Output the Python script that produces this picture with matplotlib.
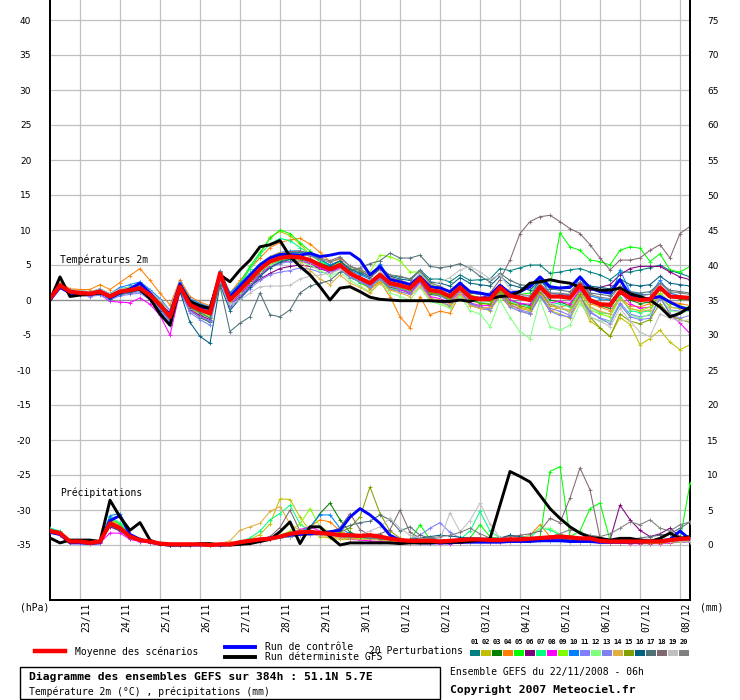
import numpy as np
import matplotlib
matplotlib.use('Agg')
import matplotlib.pyplot as plt
from matplotlib.lines import Line2D
from matplotlib.patches import Rectangle

# time axis: one point every 6h, from 22/11 06h to 08/12 06h (384h)
hours = np.arange(0, 385, 6)
day_hours = np.arange(18, 384, 24)
day_labels = ['23/11', '24/11', '25/11', '26/11', '27/11', '28/11', '29/11', '30/11',
              '01/12', '02/12', '03/12', '04/12', '05/12', '06/12', '07/12', '08/12']

member_names = ['01', '02', '03', '04', '05', '06', '07', '08', '09', '10',
                '11', '12', '13', '14', '15', '16', '17', '18', '19', '20']
member_colors = ['#008080', '#c0c000', '#008000', '#ff8000', '#00ff00', '#800080', '#00ff80',
                 '#ff00ff', '#80ff00', '#0080ff', '#8080ff', '#80ff80', '#8080f0', '#e0b040',
                 '#80a000', '#006080', '#507078', '#806870', '#c0c0c0', '#808080']

# ---- temperature 2m (deg C) ----
temp_mean = [0.2, 2.1, 1.2, 1.0, 0.9, 1.2, 0.5, 1.2,
             1.4, 1.7, 0.7, -0.7, -2.4, 1.9, -0.7, -1.4,
             -1.9, 3.8, 0.0, 1.4, 2.9, 4.4, 5.5, 6.0,
             6.2, 6.1, 5.7, 5.0, 4.4, 5.0, 3.8, 3.1,
             2.4, 3.6, 2.4, 2.1, 1.7, 3.1, 1.4, 1.2,
             0.5, 1.8, 0.4, 0.1, 0.1, 1.8, 0.6, 0.3,
             0.0, 1.9, 0.5, 0.5, 0.3, 2.1, 0.0, -0.6,
             -0.7, 1.2, 0.3, 0.0, 0.1, 1.8, 0.5, 0.4,
             0.3]
temp_control = [0.0, 1.8, 1.0, 0.8, 0.8, 1.3, 0.3, 1.0,
                1.6, 2.4, 1.0, -0.8, -2.0, 2.3, -0.5, -1.0,
                -1.2, 3.5, 0.5, 2.0, 3.5, 5.0, 6.0, 6.5,
                6.5, 6.4, 6.7, 6.2, 6.4, 6.7, 6.7, 5.7,
                3.6, 4.8, 2.9, 2.6, 2.2, 3.3, 1.9, 1.7,
                1.2, 2.4, 1.2, 1.0, 0.7, 2.1, 1.0, 1.2,
                1.9, 3.3, 1.9, 1.7, 1.8, 3.3, 1.7, 1.2,
                1.0, 2.9, 0.7, 0.2, 0.2, 0.5, -0.3, -1.0,
                -1.4]
temp_gfs = [0.0, 3.3, 0.5, 0.7, 0.8, 1.0, 0.6, 1.1,
            1.5, 1.5, 0.2, -2.0, -3.6, 2.0, -0.2, -0.8,
            -1.2, 3.6, 2.6, 4.3, 5.7, 7.6, 7.9, 8.5,
            6.2, 4.8, 3.6, 1.9, 0.0, 1.7, 1.9, 1.2,
            0.4, 0.1, 0.0, -0.1, -0.1, -0.1, -0.1, -0.2,
            -0.2, 0.0, -0.2, 0.2, 0.2, 0.5, 0.6, 1.2,
            2.4, 2.6, 2.9, 2.6, 2.4, 1.8, 1.7, 1.4,
            1.4, 1.7, 0.9, 0.5, 0.0, -1.0, -2.4, -1.9,
            -1.0]

temp_p01 = [0.2, 2.3, 1.5, 1.3, 1.2, 1.5, 0.8, 1.6, 1.8, 2.2, 1.2, 0.0, -1.6, 2.4, 0.0, -0.8,
            -1.2, 4.0, 0.8, 2.0, 3.5, 5.0, 6.0, 6.6, 6.8, 6.8, 6.5, 5.8, 5.0, 5.5, 4.5, 4.0,
            3.4, 4.4, 3.5, 3.3, 3.0, 4.3, 3.0, 3.0, 2.6, 3.6, 2.8, 2.9, 3.0, 4.5, 4.2, 4.6,
            5.0, 5.0, 3.8, 4.0, 4.3, 4.5, 4.0, 3.6, 2.9, 4.0, 4.0, 4.3, 4.6, 5.0, 4.2, 3.8, 3.3]
temp_p02 = [0.1, 1.9, 1.0, 0.8, 0.7, 1.0, 0.3, 1.0, 1.3, 1.8, 0.5, -1.0, -2.8, 1.6, -1.2, -2.0,
            -2.6, 3.4, -0.2, 2.0, 4.5, 6.5, 9.0, 9.8, 9.2, 8.0, 6.5, 5.5, 4.6, 5.0, 3.5, 2.5,
            1.6, 2.8, 1.5, 1.2, 0.8, 2.5, 0.3, -0.3, -1.0, 0.8, -0.8, -1.2, -1.5, 0.5, -1.0, -1.6,
            -2.0, 0.5, -1.5, -2.0, -2.6, 0.0, -3.0, -4.0, -5.2, -2.5, -3.5, -6.4, -5.5, -4.3, -6.0, -7.1, -6.4]
temp_p03 = [0.2, 1.8, 1.0, 0.9, 0.6, 1.0, 0.2, 0.8, 1.0, 1.5, 0.3, -1.2, -3.0, 1.5, -1.5, -2.5,
            -3.2, 3.2, -0.5, 0.8, 2.4, 3.8, 5.0, 5.6, 5.8, 5.7, 5.2, 4.5, 4.0, 4.4, 3.2, 2.6,
            2.0, 3.0, 1.8, 1.5, 1.0, 2.6, 0.8, 0.6, 0.0, 1.6, 0.2, -0.4, -0.6, 1.5, 0.0, -0.5,
            -0.8, 1.2, 0.0, -0.3, -0.8, 1.4, -0.3, -0.8, -1.2, 1.0, 0.0, -0.5, -0.3, 1.5, 0.5, 0.2, 0.0]
temp_p04 = [0.2, 2.5, 1.6, 1.5, 1.5, 2.2, 1.5, 2.5, 3.5, 4.5, 2.8, 1.0, -0.7, 2.9, 0.5, -0.3,
            -0.8, 4.2, 1.0, 2.8, 4.5, 6.0, 7.5, 8.2, 8.6, 8.8, 8.0, 6.8, 5.5, 5.8, 4.2, 3.0,
            1.5, 2.6, 0.5, -2.4, -4.0, 0.5, -2.1, -1.6, -1.9, 0.8, -0.5, -1.0, -1.2, 0.8, -0.8, -1.2,
            -1.5, 0.8, -1.6, -1.0, -0.6, 1.2, -0.5, -1.0, -1.5, 0.3, -0.8, -1.0, -0.5, 1.0, -0.3, -0.5, -0.8]
temp_p05 = [0.3, 2.3, 1.4, 1.2, 1.0, 1.6, 0.8, 1.5, 1.9, 2.0, 1.0, -0.3, -2.0, 2.2, -0.4, -1.0,
            -1.5, 4.0, 0.5, 2.5, 4.8, 6.8, 8.8, 10.0, 9.5, 8.2, 7.0, 5.8, 4.8, 5.2, 3.5, 2.4,
            1.8, 3.0, 1.5, 1.6, 1.2, 2.8, 1.0, 0.8, 0.0, 1.5, 0.2, 0.0, -0.2, 1.5, 0.5, 0.8,
            1.0, 2.6, 1.9, 9.6, 7.6, 7.1, 5.7, 5.5, 5.0, 7.1, 7.6, 7.4, 5.5, 6.6, 4.3, 4.0, 4.8]
temp_p06 = [0.2, 1.9, 1.1, 0.9, 0.9, 1.0, 0.4, 0.9, 1.2, 1.4, 0.4, -1.0, -2.8, 1.4, -1.4, -2.2,
            -2.8, 3.0, -0.8, 0.5, 2.0, 3.0, 3.8, 4.5, 4.8, 5.0, 4.8, 4.5, 4.0, 4.8, 3.6, 3.0,
            2.2, 3.4, 2.0, 1.8, 1.4, 2.8, 1.0, 0.9, 0.5, 1.8, 0.6, 0.4, 0.6, 2.2, 1.0, 0.6,
            0.2, 1.5, 0.4, 0.6, 0.8, 2.5, 1.5, 1.8, 2.2, 3.6, 4.5, 4.8, 4.8, 4.8, 4.0, 3.3, 2.9]
temp_p07 = [0.2, 2.2, 1.3, 1.1, 1.0, 1.4, 0.6, 1.3, 1.5, 1.9, 0.9, -0.5, -2.2, 2.0, -0.8, -1.6,
            -2.2, 3.6, 0.2, 2.2, 4.5, 6.5, 8.0, 8.8, 8.5, 7.5, 6.5, 5.5, 4.8, 5.2, 4.0, 3.2,
            2.3, 3.5, 2.2, 1.8, 1.5, 2.8, 1.2, 0.9, 0.2, 1.6, 0.0, -0.4, -0.5, 1.3, -0.2, -0.6,
            -1.0, 1.3, -0.3, -0.6, -1.0, 1.2, -1.0, -1.8, -2.0, 0.5, -1.5, -1.8, -1.5, 0.8, -1.0, -1.2, -1.0]
temp_p08 = [0.2, 1.9, 1.0, 0.7, 0.6, 0.8, -0.2, -0.3, -0.4, 0.3, -0.6, -2.2, -5.0, 1.2, -1.5, -2.4,
            -3.0, 3.2, -0.6, 0.8, 2.2, 3.6, 4.8, 5.4, 5.6, 5.5, 5.2, 4.6, 4.0, 4.6, 3.5, 2.9,
            2.0, 3.2, 2.0, 1.5, 1.0, 2.6, 0.5, 0.2, -0.4, 1.2, -0.4, -0.8, -0.8, 1.2, 0.0, -0.5,
            -0.6, 1.4, -0.4, -0.2, -0.5, 1.5, -0.2, -0.6, -0.8, 1.2, -0.5, -1.2, -1.0, 0.5, -2.0, -3.3, -4.8]
temp_p09 = [0.2, 2.0, 1.2, 1.0, 0.8, 1.2, 0.4, 1.1, 1.3, 1.5, 0.5, -1.0, -2.6, 1.8, -1.0, -1.8,
            -2.4, 3.5, -0.3, 1.2, 2.8, 4.2, 5.2, 5.8, 6.0, 6.0, 5.6, 5.0, 4.6, 5.4, 4.5, 4.2,
            4.0, 6.4, 6.2, 5.6, 4.0, 4.0, 2.2, 1.8, 1.0, 2.2, 0.8, 0.2, 0.0, 1.4, -0.4, -1.0,
            -1.5, 0.8, -0.8, -1.2, -1.6, 0.6, -1.4, -2.0, -2.4, 0.2, -1.2, -1.5, -1.0, 1.0, -0.5, -0.8, -1.2]
temp_p10 = [0.2, 2.2, 1.4, 1.2, 1.1, 1.6, 0.9, 1.8, 2.2, 2.6, 1.5, 0.2, -1.5, 2.6, 0.2, -0.5,
            -1.0, 4.2, 1.0, 2.4, 3.8, 5.2, 6.2, 6.8, 7.0, 7.0, 6.5, 5.8, 5.0, 5.6, 4.2, 3.6,
            3.0, 5.2, 3.0, 2.6, 2.2, 3.8, 2.0, 1.8, 1.0, 2.6, 1.0, 0.8, 0.6, 2.2, 0.8, 0.4,
            0.4, 3.0, 1.0, 0.8, 0.6, 3.3, 0.6, 0.2, 0.0, 4.3, 1.2, 0.8, 0.8, 2.8, 1.0, 0.6, 0.4]
temp_p11 = [0.2, 1.8, 0.9, 0.7, 0.5, 0.7, 0.0, 0.6, 0.8, 1.0, 0.0, -1.4, -3.2, 1.2, -1.8, -2.8,
            -3.6, 2.8, -1.0, 0.2, 1.6, 2.8, 3.6, 4.0, 4.2, 4.6, 4.4, 4.0, 3.8, 4.4, 3.2, 2.6,
            1.8, 3.0, 1.6, 1.2, 0.8, 2.4, 0.2, -0.2, -0.8, 1.0, -0.6, -1.2, -1.4, 0.8, -1.0, -1.6,
            -2.0, 0.6, -1.6, -2.2, -2.4, 0.5, -1.8, -2.6, -3.0, -0.4, -2.0, -2.4, -2.2, 0.2, -1.4, -1.6, -1.5]
temp_p12 = [0.2, 2.0, 1.1, 0.9, 0.8, 1.1, 0.4, 1.0, 1.2, 1.6, 0.6, -0.8, -2.6, 1.7, -1.0, -1.9,
            -2.6, 3.4, -0.4, 1.0, 2.6, 4.0, 5.0, 5.5, 5.7, 5.5, 5.0, 4.2, 3.5, 4.0, 2.8, 2.0,
            1.2, 2.4, 1.0, 0.5, 0.0, 1.8, -0.2, -0.6, -1.2, 0.6, -1.5, -2.0, -3.8, 0.0, -2.5, -4.5,
            -5.5, 0.0, -3.8, -4.3, -3.6, -0.5, -2.4, -3.0, -3.0, -0.8, -2.2, -2.6, -2.0, 0.4, -1.5, -1.8, -1.6]
temp_p13 = [0.2, 2.0, 1.0, 0.8, 0.8, 1.0, 0.2, 0.8, 1.0, 1.2, 0.2, -1.2, -3.0, 1.5, -1.5, -2.4,
            -3.0, 3.0, -0.7, 0.6, 2.0, 3.4, 4.6, 5.2, 5.5, 5.6, 5.4, 4.8, 4.2, 4.8, 3.4, 2.8,
            2.0, 3.2, 2.0, 1.6, 1.2, 3.0, 1.0, 0.6, -0.2, 1.4, -0.4, -1.0, -1.2, 1.0, -0.6, -1.4,
            -1.8, 0.8, -1.2, -1.6, -2.2, 0.5, -1.6, -2.6, -3.4, -0.6, -2.4, -2.8, -2.6, 0.4, -2.0, -2.6, -2.2]
temp_p14 = [0.2, 2.2, 1.3, 1.1, 1.1, 1.5, 0.7, 1.5, 1.7, 2.1, 1.0, -0.4, -2.0, 2.2, -0.4, -1.2,
            -1.6, 4.0, 0.4, 1.8, 3.4, 5.0, 6.2, 6.8, 6.5, 5.5, 4.2, 3.0, 2.2, 3.6, 2.4, 1.8,
            1.0, 2.4, 1.4, 1.0, 0.5, 2.0, 0.2, 0.0, -0.6, 1.0, -0.8, -1.2, -1.0, 1.2, -0.5, -1.0,
            -1.4, 1.0, -0.8, -1.2, -1.4, 1.0, -1.0, -1.6, -2.0, 0.2, -1.2, -1.6, -1.4, 0.6, -1.0, -1.3, -1.2]
temp_p15 = [0.2, 2.1, 1.2, 1.0, 0.9, 1.3, 0.6, 1.3, 1.5, 1.8, 0.8, -0.6, -2.3, 2.0, -0.6, -1.3,
            -1.8, 3.8, 0.0, 1.5, 3.0, 4.5, 5.6, 6.2, 6.4, 6.3, 5.9, 5.2, 4.6, 5.2, 4.0, 3.2,
            2.4, 3.6, 2.2, 1.8, 1.4, 2.8, 1.0, 0.8, 0.0, 1.5, 0.0, -0.5, -0.6, 1.2, -0.4, -0.8,
            -1.2, 1.2, -0.6, -1.0, -1.8, 0.8, -2.4, -4.0, -5.2, -2.0, -3.0, -3.4, -2.8, -0.5, -2.2, -2.8, -3.2]
temp_p16 = [0.2, 2.0, 1.1, 0.9, 0.8, 1.0, 0.2, 0.9, 1.1, 1.4, 0.2, -1.6, -3.6, 1.2, -3.2, -5.2,
            -6.2, 2.2, -1.5, 0.2, 1.8, 3.4, 4.6, 5.4, 5.8, 6.0, 5.8, 5.2, 4.8, 5.6, 4.4, 3.8,
            3.2, 4.4, 3.4, 3.0, 2.8, 4.2, 2.6, 2.4, 2.0, 3.2, 2.4, 2.2, 2.0, 3.4, 2.2, 1.8,
            1.4, 2.8, 1.6, 1.8, 2.0, 3.2, 2.0, 1.8, 1.6, 3.0, 2.2, 2.0, 2.2, 3.4, 2.4, 2.2, 2.0]
temp_p17 = [0.2, 2.0, 1.2, 1.0, 0.9, 1.2, 0.5, 1.1, 1.3, 1.6, 0.5, -0.9, -2.6, 1.8, -1.1, -1.8,
            -2.6, 2.0, -4.5, -3.3, -2.4, 1.0, -2.1, -2.4, -1.4, 1.0, 2.0, 2.4, 2.8, 4.0, 4.2, 4.6,
            5.2, 5.6, 6.7, 6.0, 6.0, 6.4, 4.8, 4.6, 4.8, 5.2, 4.5, 3.4, 2.6, 3.8, 2.8, 2.2,
            2.0, 3.0, 1.6, 1.4, 1.2, 2.6, 1.0, 0.8, 0.6, 2.0, 1.2, 1.0, 1.2, 2.4, 1.4, 1.2, 1.0]
temp_p18 = [0.2, 2.1, 1.3, 1.1, 1.0, 1.3, 0.6, 1.3, 1.5, 1.9, 0.9, -0.5, -2.2, 2.1, -0.6, -1.2,
            -1.6, 3.9, 0.2, 1.7, 3.2, 4.8, 6.0, 6.6, 6.9, 7.0, 6.7, 6.0, 5.6, 6.2, 4.8, 4.2,
            3.4, 4.4, 3.2, 2.8, 2.4, 3.6, 2.0, 1.8, 1.2, 2.2, 1.0, 0.8, 1.0, 2.9, 5.7, 9.5,
            11.2, 11.9, 12.1, 11.2, 10.2, 9.5, 7.9, 6.0, 4.3, 5.7, 5.7, 6.0, 7.1, 7.9, 6.0, 9.5, 10.5]
temp_p19 = [0.2, 2.3, 1.5, 1.3, 1.2, 1.6, 0.9, 1.6, 1.8, 2.2, 1.3, 0.0, -1.6, 2.4, -0.2, -0.8,
            -1.2, 3.8, -0.6, 0.0, 1.0, 1.9, 2.0, 2.0, 2.1, 3.0, 3.4, 3.6, 3.8, 4.4, 3.6, 3.2,
            2.8, 4.0, 3.0, 2.6, 2.4, 3.8, 2.2, 2.6, 3.2, 4.3, 4.8, 4.0, 3.0, 3.6, 1.6, 0.8,
            0.2, 1.6, -0.4, -1.0, -1.8, 0.2, -2.4, -3.0, -3.8, -1.2, -3.0, -4.6, -5.2, -2.0, -2.6, -3.0, -2.8]
temp_p20 = [0.2, 2.2, 1.3, 1.2, 1.1, 1.4, 0.7, 1.4, 1.6, 2.0, 1.0, -0.4, -2.0, 2.1, -0.4, -1.0,
            -1.4, 4.0, 0.4, 1.6, 3.2, 4.8, 5.8, 6.4, 6.6, 6.6, 6.3, 5.8, 5.4, 6.0, 4.8, 4.4,
            3.6, 4.6, 3.6, 3.4, 3.0, 4.2, 2.4, 2.0, 1.2, 2.4, 1.2, 0.8, 0.8, 2.2, 1.0, 0.8,
            0.6, 2.4, 1.0, 1.0, 0.8, 2.6, 0.8, 0.4, 0.2, 2.0, 1.0, 0.6, 0.8, 2.4, 1.2, 1.0, 0.8]

# ---- precipitation (mm / 6h) ----
rain_mean = [2.0, 1.7, 0.5, 0.5, 0.3, 0.5, 3.1, 2.4, 1.2, 0.7, 0.5, 0.2, 0.1,
             0.1, 0.1, 0.1, 0.0, 0.1, 0.1, 0.4,
             0.6, 0.8, 0.9, 1.2, 1.6, 1.8, 1.9, 1.7, 1.6, 1.4,
             1.4, 1.3, 1.4, 1.2, 0.9, 0.7, 0.6, 0.6, 0.6, 0.5,
             0.6, 0.7, 0.8, 0.8, 0.7, 0.7, 0.8, 0.8, 0.9, 1.0,
             1.1, 1.2, 1.1, 0.95, 0.95, 0.6, 0.5, 0.5, 0.5, 0.5,
             0.5, 0.5, 0.7, 0.85, 0.95]
rain_control = [1.8, 1.5, 0.3, 0.3, 0.2, 0.3, 3.5, 4.2, 1.5, 0.8, 0.4, 0.1, 0.0,
                0.0, 0.0, 0.0, 0.0, 0.0, 0.1, 0.2,
                0.5, 0.8, 1.0, 1.2, 1.4, 1.5, 1.6, 1.7, 1.9, 2.1,
                4.0, 5.2, 4.3, 3.1, 1.4, 0.7, 0.4, 0.3, 0.3, 0.3,
                0.3, 0.4, 0.4, 0.4, 0.4, 0.4, 0.5, 0.5, 0.5, 0.6,
                0.6, 0.6, 0.5, 0.5, 0.5, 0.4, 0.4, 0.4, 0.4, 0.4,
                0.5, 0.6, 0.8, 2.0, 0.8]
rain_gfs = [1.0, 0.3, 0.7, 0.7, 0.7, 0.5, 6.4, 4.0, 2.1, 3.2, 0.7, 0.1, 0.0,
            0.0, 0.0, 0.2, 0.2, 0.0, 0.0, 0.1,
            0.2, 0.5, 0.8, 1.9, 3.3, 0.2, 2.6, 2.6, 1.2, 0.0,
            0.3, 0.3, 0.3, 0.3, 0.3, 0.2, 0.3, 0.3, 0.3, 0.4,
            0.4, 0.4, 0.5, 0.7, 0.9, 5.7, 10.5, 9.8, 9.0, 7.1,
            5.2, 3.8, 2.6, 1.7, 1.1, 0.95, 0.7, 0.95, 0.95, 0.7,
            0.5, 0.95, 1.7, 0.95, 1.2]

rain_p01 = [2.2, 1.8, 0.4, 0.5, 0.3, 0.6, 3.4, 2.6, 1.3, 0.7, 0.4, 0.1, 0.0, 0.0, 0.1, 0.0, 0.0, 0.1, 0.1, 0.2,
            0.5, 0.8, 0.9, 1.2, 1.5, 1.8, 2.0, 1.6, 1.4, 1.2, 1.0, 1.2, 1.4, 1.0, 0.8, 0.6, 0.5, 0.4, 0.5, 0.4,
            0.5, 0.8, 1.0, 0.9, 0.8, 0.8, 1.4, 1.0, 0.8, 0.7, 0.6, 0.6, 0.5, 0.4, 0.5, 0.3, 0.3, 0.4, 0.3, 0.3,
            0.3, 0.3, 0.5, 0.6, 0.8]
rain_p02 = [1.9, 1.6, 0.5, 0.4, 0.3, 0.4, 2.8, 2.2, 1.1, 0.6, 0.4, 0.1, 0.0, 0.0, 0.0, 0.1, 0.0, 0.1, 0.1, 0.3,
            0.8, 1.5, 3.0, 6.6, 6.5, 4.0, 2.0, 1.2, 1.0, 0.8, 0.8, 1.0, 1.2, 0.8, 0.5, 0.4, 0.3, 0.3, 0.4, 0.3,
            0.4, 0.5, 0.6, 0.6, 0.5, 0.5, 0.6, 0.6, 0.7, 0.8, 0.9, 1.0, 0.8, 0.6, 0.5, 0.4, 0.3, 0.3, 0.3, 0.2,
            0.2, 0.3, 0.3, 0.4, 0.5]
rain_p03 = [2.1, 1.7, 0.6, 0.5, 0.4, 0.5, 3.0, 2.3, 1.2, 0.8, 0.5, 0.2, 0.1, 0.0, 0.1, 0.0, 0.0, 0.1, 0.2, 0.2,
            0.4, 0.6, 0.8, 1.0, 1.2, 1.6, 2.4, 4.5, 6.0, 3.6, 1.8, 1.2, 1.0, 0.8, 0.6, 0.5, 0.4, 0.4, 0.4, 0.3,
            0.4, 0.5, 0.6, 0.6, 0.5, 0.6, 0.7, 0.8, 0.9, 1.0, 1.2, 1.3, 1.0, 0.8, 0.7, 0.5, 0.4, 0.4, 0.4, 0.3,
            0.3, 0.4, 0.5, 0.5, 0.6]
rain_p04 = [2.0, 1.8, 0.5, 0.6, 0.3, 0.6, 3.6, 2.8, 1.4, 0.8, 0.6, 0.3, 0.2, 0.1, 0.1, 0.0, 0.0, 0.1, 0.1, 0.2,
            0.5, 0.7, 0.9, 1.2, 1.6, 2.0, 2.6, 3.6, 3.3, 2.0, 1.4, 1.2, 1.0, 0.8, 0.6, 0.5, 0.4, 0.4, 0.4, 0.3,
            0.3, 0.4, 0.5, 0.5, 0.5, 0.6, 0.8, 1.0, 1.4, 2.9, 1.2, 0.9, 0.7, 0.6, 0.5, 0.4, 0.4, 0.3, 0.3, 0.3,
            0.3, 0.3, 0.4, 0.5, 0.6]
rain_p05 = [2.3, 1.9, 0.6, 0.6, 0.4, 0.6, 3.8, 3.0, 1.5, 0.9, 0.6, 0.3, 0.1, 0.0, 0.0, 0.1, 0.0, 0.1, 0.1, 0.2,
            0.5, 0.8, 1.0, 1.3, 1.6, 1.9, 2.0, 1.7, 1.4, 1.2, 1.0, 1.2, 1.2, 1.0, 0.8, 0.6, 0.6, 2.9, 0.8, 0.5,
            0.5, 0.6, 1.0, 2.9, 1.2, 0.8, 0.7, 0.6, 0.6, 1.0, 10.5, 11.2, 1.2, 2.0, 5.2, 6.0, 0.7, 0.5, 0.4, 0.4,
            0.3, 0.3, 0.4, 0.7, 8.8]
rain_p06 = [1.9, 1.6, 0.4, 0.4, 0.3, 0.4, 2.6, 2.0, 1.0, 0.6, 0.4, 0.1, 0.0, 0.0, 0.0, 0.0, 0.0, 0.1, 0.1, 0.2,
            0.4, 0.6, 0.8, 1.0, 1.4, 1.6, 1.8, 1.6, 1.5, 1.3, 1.2, 1.1, 1.0, 0.8, 0.6, 0.5, 0.4, 0.4, 0.3, 0.3,
            0.4, 0.5, 0.6, 0.6, 0.6, 0.6, 0.7, 0.7, 0.8, 0.8, 0.9, 0.9, 0.8, 0.7, 0.6, 0.5, 0.7, 5.7, 3.6, 2.1,
            1.2, 1.6, 2.4, 1.2, 0.8]
rain_p07 = [2.4, 2.0, 0.6, 0.5, 0.3, 0.5, 4.0, 3.2, 1.4, 0.8, 0.5, 0.2, 0.1, 0.0, 0.0, 0.0, 0.0, 0.1, 0.2, 0.5,
            1.0, 2.0, 3.6, 4.5, 5.7, 3.0, 2.0, 1.6, 1.4, 1.2, 1.2, 1.0, 1.0, 0.8, 0.6, 0.5, 0.5, 0.5, 0.4, 0.4,
            0.5, 0.8, 2.0, 4.8, 2.0, 1.0, 0.8, 0.8, 1.0, 2.4, 2.2, 1.4, 1.0, 0.8, 0.6, 0.5, 0.4, 0.4, 0.4, 0.3,
            0.3, 0.3, 0.4, 0.6, 0.8]
rain_p08 = [1.8, 1.5, 0.4, 0.3, 0.2, 0.3, 1.7, 1.7, 0.8, 0.5, 0.3, 0.1, 0.0, 0.0, 0.0, 0.0, 0.0, 0.0, 0.1, 0.1,
            0.3, 0.5, 0.8, 1.2, 1.6, 2.2, 2.6, 2.0, 1.6, 1.2, 0.8, 0.7, 0.6, 0.5, 0.4, 0.3, 0.3, 0.3, 0.3, 0.2,
            0.2, 0.3, 0.4, 0.4, 0.4, 0.4, 0.5, 0.6, 0.7, 0.8, 0.8, 0.7, 0.6, 0.5, 0.4, 0.3, 0.3, 0.3, 0.2, 0.2,
            0.2, 0.2, 0.3, 0.4, 0.5]
rain_p09 = [2.0, 1.7, 0.5, 0.5, 0.3, 0.5, 3.2, 2.5, 1.3, 0.7, 0.5, 0.2, 0.1, 0.0, 0.0, 0.0, 0.0, 0.1, 0.1, 0.2,
            0.5, 0.7, 1.0, 1.4, 2.0, 3.0, 5.2, 2.6, 1.8, 1.4, 1.2, 1.0, 1.0, 0.8, 0.6, 0.5, 0.5, 0.4, 0.4, 0.3,
            0.4, 0.5, 0.6, 0.6, 0.6, 0.6, 0.7, 0.8, 0.9, 1.0, 1.2, 1.4, 1.2, 1.0, 0.8, 0.6, 0.5, 0.4, 0.4, 0.3,
            0.3, 0.3, 0.4, 0.5, 0.6]
rain_p10 = [2.2, 1.9, 0.5, 0.6, 0.4, 0.7, 4.2, 4.5, 1.6, 0.9, 0.6, 0.3, 0.1, 0.0, 0.0, 0.0, 0.0, 0.1, 0.1, 0.2,
            0.5, 0.8, 1.0, 1.3, 1.6, 1.8, 2.6, 4.3, 4.3, 2.4, 1.6, 1.4, 1.2, 0.9, 0.7, 0.6, 0.5, 0.5, 0.4, 0.4,
            0.4, 0.5, 0.6, 0.6, 0.6, 0.6, 0.8, 0.9, 1.0, 1.0, 1.1, 1.2, 1.0, 0.8, 0.6, 0.5, 0.5, 0.6, 0.5, 0.5,
            0.5, 0.6, 0.8, 2.0, 0.9]
rain_p11 = [2.0, 1.6, 0.4, 0.4, 0.3, 0.4, 2.9, 2.2, 1.1, 0.6, 0.4, 0.1, 0.0, 0.0, 0.0, 0.0, 0.0, 0.0, 0.1, 0.2,
            0.5, 0.7, 0.9, 1.2, 1.5, 1.7, 1.8, 1.6, 1.5, 1.3, 1.2, 1.1, 1.0, 0.8, 0.6, 0.6, 0.8, 1.4, 2.4, 3.2,
            1.8, 1.0, 0.8, 0.6, 0.6, 0.6, 0.6, 0.8, 0.9, 1.0, 1.0, 1.1, 1.0, 0.9, 0.7, 0.5, 0.4, 0.4, 0.4, 0.3,
            0.3, 0.3, 0.4, 0.4, 0.5]
rain_p12 = [2.1, 1.8, 0.5, 0.5, 0.3, 0.5, 3.0, 2.3, 1.2, 0.7, 0.5, 0.2, 0.1, 0.0, 0.0, 0.0, 0.0, 0.1, 0.1, 0.2,
            0.5, 0.8, 1.1, 1.4, 1.8, 2.0, 2.0, 1.8, 1.6, 1.4, 1.2, 1.1, 1.0, 0.8, 0.6, 0.5, 0.5, 0.5, 0.4, 0.4,
            0.5, 0.6, 0.7, 0.8, 0.8, 0.8, 0.9, 1.0, 1.4, 2.4, 2.4, 1.6, 1.2, 0.9, 0.7, 0.5, 0.4, 0.4, 0.4, 0.3,
            0.3, 0.3, 0.4, 0.5, 0.6]
rain_p13 = [2.0, 1.7, 0.5, 0.5, 0.3, 0.5, 3.1, 2.4, 1.2, 0.7, 0.5, 0.2, 0.1, 0.0, 0.0, 0.0, 0.0, 0.1, 0.1, 0.2,
            0.4, 0.6, 0.8, 1.0, 1.3, 1.6, 1.8, 1.7, 1.6, 1.4, 1.2, 1.1, 1.0, 0.9, 0.7, 0.6, 0.5, 0.5, 0.5, 0.4,
            0.5, 0.6, 0.7, 0.7, 0.7, 0.7, 0.8, 0.9, 1.0, 1.0, 1.0, 1.1, 1.0, 0.9, 0.8, 0.7, 0.6, 0.5, 0.5, 0.4,
            0.4, 0.4, 0.5, 0.6, 0.7]
rain_p14 = [2.2, 1.8, 0.6, 0.5, 0.3, 0.5, 3.3, 2.6, 1.3, 0.8, 0.5, 0.2, 0.1, 0.0, 0.0, 0.0, 0.1, 0.2, 0.6, 2.1,
            2.6, 3.1, 4.8, 5.5, 3.0, 2.0, 1.6, 1.4, 1.2, 1.0, 0.9, 0.8, 0.8, 0.7, 0.6, 0.5, 0.4, 0.4, 0.4, 0.3,
            0.4, 0.4, 0.5, 0.5, 0.5, 0.6, 0.6, 0.7, 0.8, 0.9, 1.0, 1.0, 0.9, 0.8, 0.6, 0.5, 0.4, 0.4, 0.3, 0.3,
            0.3, 0.3, 0.4, 0.5, 0.6]
rain_p15 = [2.1, 1.7, 0.5, 0.5, 0.3, 0.5, 3.0, 2.3, 1.2, 0.7, 0.5, 0.2, 0.1, 0.0, 0.0, 0.0, 0.0, 0.1, 0.1, 0.2,
            0.5, 0.7, 0.9, 1.2, 1.5, 1.7, 1.9, 1.8, 1.6, 1.8, 2.5, 4.0, 8.3, 4.5, 2.0, 1.0, 0.6, 0.5, 0.4, 0.4,
            0.4, 0.5, 0.6, 0.6, 0.6, 0.6, 0.7, 0.8, 0.8, 0.9, 1.0, 1.0, 0.9, 0.8, 0.6, 0.5, 0.4, 0.4, 0.3, 0.3,
            0.3, 0.3, 0.4, 0.5, 0.6]
rain_p16 = [1.9, 1.6, 0.4, 0.5, 0.3, 0.5, 2.8, 2.1, 1.0, 0.6, 0.4, 0.1, 0.0, 0.0, 0.0, 0.0, 0.0, 0.1, 0.1, 0.2,
            0.4, 0.6, 0.8, 1.0, 1.2, 1.4, 1.6, 1.5, 1.4, 1.3, 1.2, 1.1, 1.0, 0.9, 0.8, 0.7, 0.8, 1.0, 1.2, 1.4,
            1.3, 1.1, 1.0, 1.0, 0.9, 1.0, 1.4, 1.2, 1.0, 0.9, 0.9, 0.9, 0.8, 0.7, 0.6, 0.6, 0.6, 0.8, 0.9, 0.8,
            0.8, 0.7, 0.7, 0.8, 0.9]
rain_p17 = [2.0, 1.7, 0.5, 0.5, 0.3, 0.5, 3.0, 2.4, 1.2, 0.7, 0.5, 0.2, 0.1, 0.0, 0.0, 0.0, 0.0, 0.1, 0.1, 0.2,
            0.4, 0.6, 0.8, 1.0, 1.2, 1.4, 1.6, 1.6, 1.8, 2.2, 2.8, 3.2, 3.4, 4.3, 3.6, 2.0, 2.6, 1.4, 1.0, 0.8,
            0.7, 0.7, 0.8, 0.8, 0.7, 0.7, 0.8, 0.9, 1.0, 1.0, 1.0, 1.0, 0.9, 0.8, 0.7, 0.6, 0.6, 0.7, 0.8, 1.0,
            1.2, 1.4, 1.6, 2.4, 3.3]
rain_p18 = [2.1, 1.8, 0.5, 0.5, 0.3, 0.5, 3.1, 2.5, 1.2, 0.7, 0.5, 0.2, 0.1, 0.0, 0.0, 0.0, 0.0, 0.1, 0.1, 0.2,
            0.5, 0.8, 1.2, 2.5, 5.0, 2.0, 1.5, 1.4, 1.8, 2.5, 4.5, 2.2, 1.4, 1.6, 2.2, 5.0, 1.8, 1.0, 0.7, 0.6,
            0.6, 0.7, 0.8, 0.9, 1.0, 1.0, 1.2, 1.4, 1.6, 2.0, 3.8, 3.2, 6.7, 11.0, 7.9, 1.0, 0.8, 0.7, 0.7, 0.8,
            0.8, 0.8, 0.7, 0.7, 0.8]
rain_p19 = [2.0, 1.7, 0.5, 0.5, 0.3, 0.5, 3.0, 2.3, 1.1, 0.7, 0.5, 0.2, 0.1, 0.0, 0.0, 0.0, 0.0, 0.1, 0.1, 0.2,
            0.4, 0.6, 0.8, 1.0, 1.2, 1.4, 1.5, 1.4, 1.3, 1.2, 1.2, 1.4, 2.0, 2.6, 3.8, 2.4, 1.4, 1.0, 0.8, 0.8,
            4.6, 1.9, 3.5, 6.0, 3.0, 1.0, 0.8, 0.7, 0.7, 0.6, 0.6, 0.6, 0.5, 0.5, 0.5, 0.4, 0.4, 0.4, 0.4, 0.4,
            0.4, 0.4, 0.5, 0.5, 0.6]
rain_p20 = [2.1, 1.8, 0.5, 0.5, 0.3, 0.5, 3.1, 2.4, 1.2, 0.7, 0.5, 0.2, 0.1, 0.0, 0.0, 0.0, 0.0, 0.1, 0.1, 0.2,
            0.5, 0.7, 0.9, 1.2, 1.5, 1.6, 1.7, 1.6, 1.5, 1.3, 1.2, 1.1, 1.0, 0.9, 0.8, 0.6, 0.6, 0.8, 1.0, 1.2,
            1.4, 1.8, 2.4, 1.6, 1.0, 0.8, 0.8, 0.9, 1.0, 1.0, 1.2, 1.6, 2.2, 1.8, 1.4, 1.2, 1.6, 2.4, 3.3, 2.9,
            3.6, 2.4, 2.0, 2.9, 3.3]

temp_members = [temp_p01, temp_p02, temp_p03, temp_p04, temp_p05, temp_p06, temp_p07, temp_p08, temp_p09, temp_p10,
                temp_p11, temp_p12, temp_p13, temp_p14, temp_p15, temp_p16, temp_p17, temp_p18, temp_p19, temp_p20]
rain_members = [rain_p01, rain_p02, rain_p03, rain_p04, rain_p05, rain_p06, rain_p07, rain_p08, rain_p09, rain_p10,
                rain_p11, rain_p12, rain_p13, rain_p14, rain_p15, rain_p16, rain_p17, rain_p18, rain_p19, rain_p20]

W, H = 740, 700
def fx(px):
    return px / W
def fy(py):
    return 1 - py / H

mono = 'DejaVu Sans Mono'

fig = plt.figure(figsize=(7.4, 7.0), dpi=100)
ax = fig.add_axes([fx(50), fy(600), 640 / W, 600 / H])
ax2 = ax.twinx()

# temperatures on the left scale
for vals, col in zip(temp_members, member_colors):
    ax.plot(hours, vals, color=col, lw=0.75, marker='+', ms=3, mew=0.6, zorder=3)
ax.plot(hours, temp_control, color='#0000ff', lw=2.1, zorder=4)
ax.plot(hours, temp_gfs, color='black', lw=2.1, zorder=5)
ax.plot(hours, temp_mean, color='#ff0000', lw=3.0, zorder=6)

# precipitation on the right scale (0 mm = -35 C line)
for vals, col in zip(rain_members, member_colors):
    ax2.plot(hours, vals, color=col, lw=0.75, marker='+', ms=3, mew=0.6, zorder=3)
ax2.plot(hours, rain_control, color='#0000ff', lw=2.1, zorder=4)
ax2.plot(hours, rain_gfs, color='black', lw=2.1, zorder=5)
ax2.plot(hours, rain_mean, color='#ff0000', lw=3.0, zorder=6)

ax.set_xlim(0, 384)
ax.set_ylim(-300 / 7, 300 / 7)
ax2.set_ylim(-300 / 7 + 35, 300 / 7 + 35)

ax.set_yticks(range(-35, 45, 5))
ax.set_yticklabels([str(v) for v in range(-35, 45, 5)])
ax2.set_yticks(range(0, 80, 5))
ax2.set_yticklabels([str(v) for v in range(0, 80, 5)])
ax.set_xticks(day_hours)
ax.set_xticklabels([])
ax.tick_params(axis='x', length=0)
ax.tick_params(axis='y', length=0, pad=13.5, labelsize=6.5)
ax2.tick_params(axis='y', length=0, pad=12.5, labelsize=6.5)
ax.grid(True, color='#c0c0c0', lw=0.9)
ax.set_axisbelow(True)
ax.axhline(0, color='#909090', lw=0.9, zorder=1)

for a in (ax, ax2):
    a.spines['top'].set_visible(False)
    for s in ('left', 'right', 'bottom'):
        a.spines[s].set_color('black')
        a.spines[s].set_linewidth(1.4)

for h, lab in zip(day_hours, day_labels):
    ax.text(h + 1, -0.004, lab, transform=ax.get_xaxis_transform(), rotation=90,
            ha='left', va='top', fontsize=7, family=mono)

ax.text(6, 5.7, 'Températures 2m', fontsize=7, family=mono, va='center', zorder=7)
ax.text(6, -27.6, 'Précipitations', fontsize=7, family=mono, va='center', zorder=7)
fig.text(fx(20), fy(607), '(hPa)', fontsize=7, family=mono, va='center')
fig.text(fx(700), fy(607), '(mm)', fontsize=7, family=mono, va='center')

# legend
fig.add_artist(Line2D([fx(35), fx(65)], [fy(651), fy(651)], color='#ff0000', lw=3.2))
fig.text(fx(75), fy(652), 'Moyenne des scénarios', fontsize=7, family=mono, va='center')
fig.add_artist(Line2D([fx(225), fx(255)], [fy(647), fy(647)], color='#0000ff', lw=2.8))
fig.add_artist(Line2D([fx(225), fx(255)], [fy(657), fy(657)], color='black', lw=2.8))
fig.text(fx(265), fy(647), 'Run de contrôle', fontsize=7, family=mono, va='center')
fig.text(fx(265), fy(657), 'Run déterministe GFS', fontsize=7, family=mono, va='center')
fig.text(fx(369), fy(651), '20 Perturbations', fontsize=7, family=mono, va='center')
for k, (name, col) in enumerate(zip(member_names, member_colors)):
    x0 = 470 + 11 * k
    fig.add_artist(Rectangle((fx(x0), fy(656)), 10 / W, 6 / H, transform=fig.transFigure,
                             facecolor=col, edgecolor='none'))
    fig.text(fx(x0 + 5), fy(642), name, fontsize=5, family=mono, weight='bold',
             ha='center', va='center')

fig.add_artist(Rectangle((fx(20), fy(699)), 420 / W, 32 / H, transform=fig.transFigure,
                         facecolor='none', edgecolor='black', lw=1))
fig.text(fx(29), fy(677), 'Diagramme des ensembles GEFS sur 384h : 51.1N 5.7E',
         fontsize=8.2, family=mono, weight='bold', va='center')
fig.text(fx(29), fy(692), 'Température 2m (°C) , précipitations (mm)',
         fontsize=7, family=mono, va='center')
fig.text(fx(450), fy(672), 'Ensemble GEFS du 22/11/2008 - 06h', fontsize=7, family=mono, va='center')
fig.text(fx(450), fy(690), 'Copyright 2007 Meteociel.fr', fontsize=8.2, family=mono,
         weight='bold', va='center')

fig.savefig('out.png', dpi=100)
